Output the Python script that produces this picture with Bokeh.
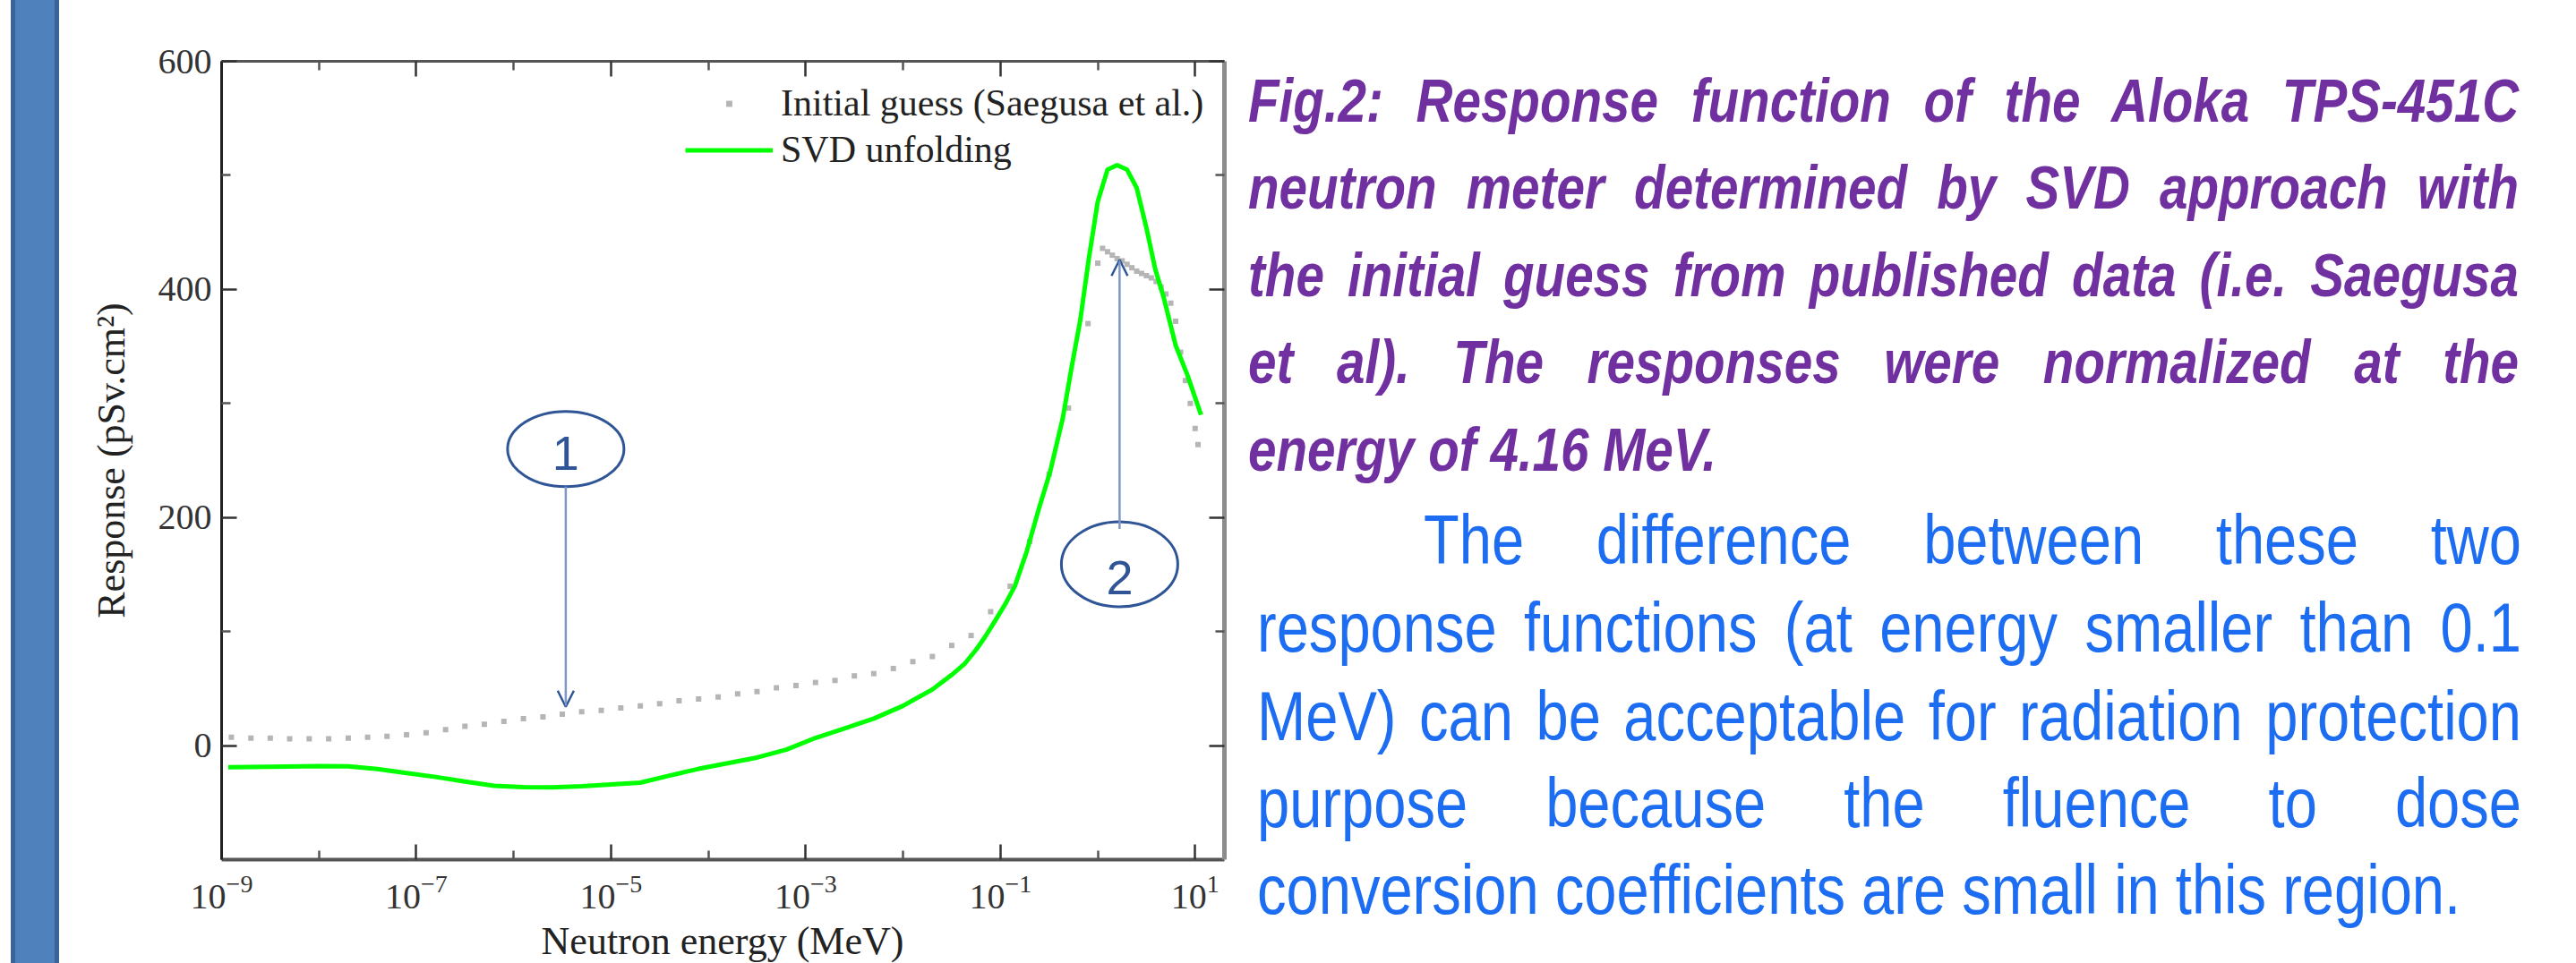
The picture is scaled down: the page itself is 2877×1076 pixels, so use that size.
from bokeh.plotting import figure
from bokeh.layouts import row, column
from bokeh.models import (LogAxis, LinearAxis, FixedTicker, Legend, LegendItem, Label,
                          Arrow, OpenHead, Range1d, Div)
from bokeh.embed import file_html
from bokeh.resources import INLINE

# ---------------- data ----------------
guess_energy = [
    1.26e-9, 2.0e-9, 3.16e-9, 5.0e-9, 7.94e-9,
    1.26e-8, 2.0e-8, 3.16e-8, 5.0e-8, 7.94e-8,
    1.26e-7, 2.0e-7, 3.16e-7, 5.0e-7, 7.94e-7,
    1.26e-6, 2.0e-6, 3.16e-6, 5.0e-6, 7.94e-6,
    1.26e-5, 2.0e-5, 3.16e-5, 5.0e-5, 7.94e-5,
    1.26e-4, 2.0e-4, 3.16e-4, 5.0e-4, 7.94e-4,
    1.26e-3, 2.0e-3, 3.16e-3, 5.0e-3, 7.94e-3,
    1.26e-2, 2.0e-2, 3.16e-2, 5.0e-2, 7.94e-2,
    1.26e-1, 2.0e-1, 3.16e-1, 5.0e-1, 7.94e-1,
    1.0, 1.12, 1.26, 1.41, 1.58, 1.78, 2.0, 2.24, 2.51, 2.82, 3.16,
    3.55, 3.98, 4.47, 5.01, 5.62, 6.31, 7.08, 7.94, 8.91, 10.0, 10.7,
]
guess_response = [
    7.3, 6.5, 6.5, 6.0, 6.0,
    6.0, 6.5, 7.3, 8.1, 9.4,
    11.3, 13.9, 17.0, 18.6, 21.2,
    23.6, 25.2, 27.5, 29.6, 30.9,
    33.0, 34.8, 36.7, 39.3, 40.9,
    42.7, 45.3, 47.4, 50.6, 52.7,
    55.3, 57.1, 61.1, 63.1, 67.6,
    73.6, 78.1, 87.8, 96.5, 117.4,
    139.7, 179.0, 238.0, 296.0, 370.0,
    423, 436, 433, 430, 427, 425, 422, 419, 416, 414, 412,
    410, 407, 402, 396, 388, 372, 345, 320, 300, 278, 264,
]

svd_energy = [
    1.17e-9, 3.16e-9, 1.0e-8, 2.0e-8, 3.98e-8, 7.94e-8, 1.58e-7, 3.16e-7,
    6.31e-7, 1.26e-6, 2.51e-6, 5.01e-6, 1.0e-5, 2.0e-5, 3.98e-5, 7.94e-5,
    1.58e-4, 3.16e-4, 6.31e-4, 1.26e-3, 2.51e-3, 5.01e-3, 1.0e-2, 2.0e-2,
    3.16e-2, 4.27e-2, 5.62e-2, 6.92e-2, 8.91e-2, 0.112, 0.141, 0.186,
    0.245, 0.324, 0.437, 0.537, 0.661, 0.813, 1.0, 1.26, 1.58, 2.0,
    2.51, 3.16, 3.89, 4.79, 6.31, 8.32, 11.5,
]
svd_response = [
    -19.0, -18.5, -18.0, -18.1, -20.5, -24.0, -27.5, -31.5,
    -35.3, -36.4, -36.6, -35.6, -34.0, -32.5, -26.3, -20.4,
    -15.5, -10.5, -3.6, 6.7, 15.0, 23.7, 34.9, 49.2,
    62.0, 71.5, 84.0, 95.0, 110.0, 124.0, 140.0, 170.0,
    206.0, 240.0, 287.0, 331.0, 373.0, 428.0, 477.0, 505.0, 509.0, 505.0,
    489.0, 454.0, 418.0, 392.0, 351.0, 325.0, 290.0,
]

x_major_ticks = [1e-9, 1e-7, 1e-5, 1e-3, 1e-1, 1e1]
x_minor_ticks = [1e-8, 1e-6, 1e-4, 1e-2, 1e0]
y_major_ticks = [0, 200, 400, 600]
y_minor_ticks = [100, 300, 500]

series_labels = ["Initial guess (Saegusa et al.)", "SVD unfolding"]
x_title = "Neutron energy (MeV)"
y_title = "Response (pSv.cm\u00b2)"

caption_lines = [
    "Fig.2: Response function of the Aloka TPS-451C",
    "neutron meter determined by SVD approach with",
    "the initial guess from published data (i.e. Saegusa",
    "et al). The responses were normalized at the",
    "energy of 4.16 MeV.",
]
body_lines = [
    "The difference between these two",
    "response functions (at energy smaller than 0.1",
    "MeV) can be acceptable for radiation protection",
    "purpose because the fluence to dose",
    "conversion coefficients are small in this region.",
]

# ---------------- layout (page pixel positions) ----------------
H = 1076
BAR_W = 66
CHART_X0, CHART_X1 = 66, 1380
TEXT_X0, TEXT_X1 = 1380, 2877
FL, FR, FT, FB = 247, 1367, 68, 960
CHART_H = 1027                       # x-axis title sits in a strip below

caption_left = [1394, 1394, 1394, 1394, 1394]
caption_right = 2813
caption_base = [136, 233.5, 331, 428.5, 526]
body_left = [1590, 1404, 1404, 1404, 1404]
body_right = 2816
body_base = [630, 728.5, 827, 924, 1021]

SERIF = "Liberation Serif"
SANS = "Liberation Sans"

# ---------------- left blue bar ----------------
bar = Div(width=BAR_W, height=H, margin=0, text=(
    '<div style="position:relative;width:66px;height:1076px;overflow:hidden;background:#ffffff">'
    '<div style="position:absolute;left:12px;top:0;width:54px;height:1076px;box-sizing:border-box;'
    'background:#4f81bd;border-left:5px solid #3b6496;border-right:5px solid #3b6496"></div></div>'))

# ---------------- chart ----------------
p = figure(width=CHART_X1 - CHART_X0, height=CHART_H, x_axis_type="log",
           x_range=Range1d(1e-9, 20), y_range=Range1d(-100, 600),
           output_backend="svg", toolbar_location=None, title=None,
           min_border_left=FL - CHART_X0, min_border_right=CHART_X1 - FR,
           min_border_top=FT, min_border_bottom=CHART_H - FB)
p.outline_line_color = None
p.xgrid.visible = False
p.ygrid.visible = False


def style_axis(ax, color, width, labels=True):
    ax.axis_line_color = color
    ax.axis_line_width = width
    ax.major_tick_in = 17
    ax.major_tick_out = 0
    ax.minor_tick_in = 10
    ax.minor_tick_out = 0
    ax.major_tick_line_color = "#333333"
    ax.major_tick_line_width = 2.5
    ax.minor_tick_line_color = "#555555"
    ax.minor_tick_line_width = 2.5
    if labels:
        ax.major_label_text_font = SERIF
        ax.major_label_text_font_size = "40px"
        ax.major_label_text_color = "#333333"
    else:
        ax.major_label_text_font_size = "1px"
        ax.major_label_text_color = None
        ax.major_label_standoff = 0


xb = p.xaxis[0]
xb.ticker = FixedTicker(ticks=x_major_ticks, minor_ticks=x_minor_ticks)
style_axis(xb, "#555555", 4)
xb.major_label_standoff = 17

yl = p.yaxis[0]
yl.ticker = FixedTicker(ticks=y_major_ticks, minor_ticks=y_minor_ticks)
style_axis(yl, "#222222", 3)
yl.major_label_standoff = 11
yl.axis_label = y_title
yl.axis_label_text_font = SERIF
yl.axis_label_text_font_size = "44px"
yl.axis_label_text_font_style = "normal"
yl.axis_label_text_color = "#222222"
yl.axis_label_standoff = 25

xt = LogAxis(ticker=FixedTicker(ticks=x_major_ticks, minor_ticks=x_minor_ticks))
style_axis(xt, "#555555", 3, labels=False)
p.add_layout(xt, "above")
yr = LinearAxis(ticker=FixedTicker(ticks=y_major_ticks, minor_ticks=y_minor_ticks))
style_axis(yr, "#8c8c8c", 5, labels=False)
p.add_layout(yr, "right")

r_guess = p.scatter(guess_energy, guess_response, marker="square", size=6,
                    fill_color="#b5b5b5", line_color=None)
r_svd = p.line(svd_energy, svd_response, line_color="#00ff00", line_width=5)

legend = Legend(items=[LegendItem(label=series_labels[0], renderers=[r_guess]),
                       LegendItem(label=series_labels[1], renderers=[r_svd])],
                location=(765 - FL, FB - 193), orientation="vertical",
                padding=0, margin=0, spacing=0, glyph_width=98, glyph_height=17,
                label_height=52, label_standoff=9, label_text_font=SERIF,
                label_text_font_size="42px", label_text_color="#222222",
                border_line_color=None, background_fill_alpha=0)
p.add_layout(legend)

# annotations 1 and 2
ann_x = [3.43e-6, 1.675]
ann_y = [260, 159]
p.ellipse(x=ann_x, y=ann_y, width=[130, 130], height=[84, 95],
          width_units="screen", height_units="screen",
          fill_color=None, line_color="#2f5597", line_width=3)
p.add_layout(Arrow(end=OpenHead(size=18, line_color="#2f5597", line_width=2.5),
                   x_start=ann_x[0], y_start=227, x_end=ann_x[0], y_end=34,
                   line_color="#7f97c6", line_width=2.5))
p.add_layout(Arrow(end=OpenHead(size=18, line_color="#2f5597", line_width=2.5),
                   x_start=ann_x[1], y_start=190, x_end=ann_x[1], y_end=426,
                   line_color="#7f97c6", line_width=2.5))
for t, xx, yy in [("1", ann_x[0], 256), ("2", ann_x[1], 147)]:
    p.add_layout(Label(x=xx, y=yy, text=t, text_align="center", text_baseline="alphabetic",
                       text_font=SANS, text_font_size="54px", text_color="#2f5597"))

# x-axis title strip under the chart (baseline near page y 1066)
strip_h = H - CHART_H
xdiv = Div(width=CHART_X1 - CHART_X0, height=strip_h, margin=0, text=(
    f'<div style="position:relative;width:{CHART_X1 - CHART_X0}px;height:{strip_h}px">'
    f'<div style="position:absolute;left:0;top:0;width:{2 * ((FL + FR) / 2 - CHART_X0):.0f}px;'
    f'text-align:center;white-space:nowrap;font-family:\'{SERIF}\';font-size:44px;'
    f'line-height:{strip_h}px;color:#222222">{x_title}</div></div>'))

# ---------------- right-hand text ----------------
def text_block(lines, lefts, right, bases, size, scale, weight, style, color):
    out = []
    n = len(lines)
    for i, (txt, left, base) in enumerate(zip(lines, lefts, bases)):
        just = "justify" if i < n - 1 else "left"
        top = base - 0.8465 * size
        width = (right - left) / scale
        out.append(
            f'<div style="position:absolute;left:{left - TEXT_X0}px;top:{top:.1f}px;width:{width:.1f}px;'
            f'font-family:\'{SANS}\';font-size:{size}px;line-height:{size}px;font-weight:{weight};'
            f'font-style:{style};color:{color};transform:scaleX({scale});transform-origin:0 0;'
            f'text-align:{just};text-align-last:{just}">{txt}</div>')
    return "".join(out)


text_html = (
    f'<div style="position:relative;width:{TEXT_X1 - TEXT_X0}px;height:{H}px;overflow:hidden">'
    + text_block(caption_lines, caption_left, caption_right, caption_base, 69, 0.82,
                 "bold", "italic", "#7030a0")
    + text_block(body_lines, body_left, body_right, body_base, 77, 0.845,
                 "normal", "normal", "#1c6df2")
    + '</div>')
tdiv = Div(width=TEXT_X1 - TEXT_X0, height=H, margin=0, text=text_html)

layout = row(bar, column(p, xdiv, spacing=0), tdiv, spacing=0)
open("out.html", "w").write(file_html(layout, INLINE))
